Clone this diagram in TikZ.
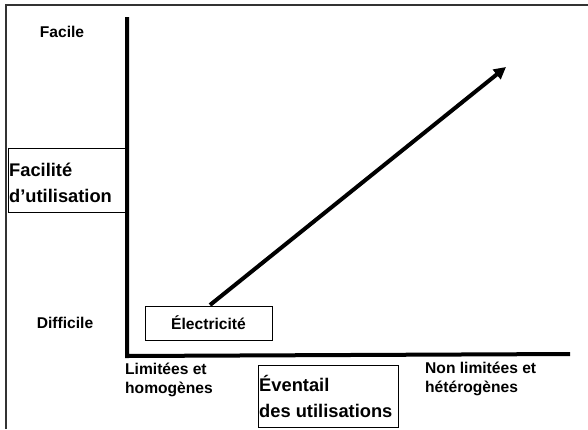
\documentclass[tikz,border=0pt]{standalone}
\usepackage{fontspec}
\setmainfont{Liberation Sans}
\usetikzlibrary{arrows.meta}
\tikzset{
  lbl/.style={font=\bfseries\fontsize{15.6}{19}\selectfont, inner sep=0pt},
  biglbl/.style={font=\bfseries\fontsize{18.3}{26}\selectfont, inner sep=0pt},
  axis/.style={line width=4pt},
  thinbox/.style={draw, line width=0.8pt}
}
\begin{document}
\begin{tikzpicture}[x=1pt,y=-1pt]
\useasboundingbox (0,0) rectangle (588,429);
% frame
\draw[line width=1.2pt, black!80] (6,429) -- (6,5) -- (588,5);
% axes
\coordinate (top) at (127,17);
\coordinate (orig) at (127,354);
\coordinate (right) at (570,354);
\draw[axis] (top) -- (127,356) -- (right);
% labels
\node[lbl] (facile) at (62,32) {Facile};
\node[lbl] (difficile) at (65,323) {Difficile};
\node[thinbox, minimum width=117pt, minimum height=64pt, inner sep=0pt] (fubox) at (66.5,180) {};
\node[biglbl, anchor=west, align=left] (fu) at (9,183) {Facilité\\d’utilisation};
\node[lbl, anchor=north west, align=left] (lim) at (125,363) {Limitées et\\homogènes};
\node[lbl, anchor=north west, align=left] (nonlim) at (425,362) {Non limitées et\\hétérogènes};
\node[thinbox, minimum width=140pt, minimum height=62pt, inner sep=0pt] (evbox) at (328,396) {};
\node[biglbl, anchor=west, align=left] (ev) at (259,396) {Éventail\\des utilisations};
\node[thinbox, minimum width=127pt, minimum height=34pt, inner sep=0pt, lbl] (elec) at (208.5,323) {Électricité};
\coordinate (tip) at (506,67);
\draw[line width=4pt, -{Triangle[length=12pt,width=12pt]}] (210,305) -- (tip);
\end{tikzpicture}
\end{document}
